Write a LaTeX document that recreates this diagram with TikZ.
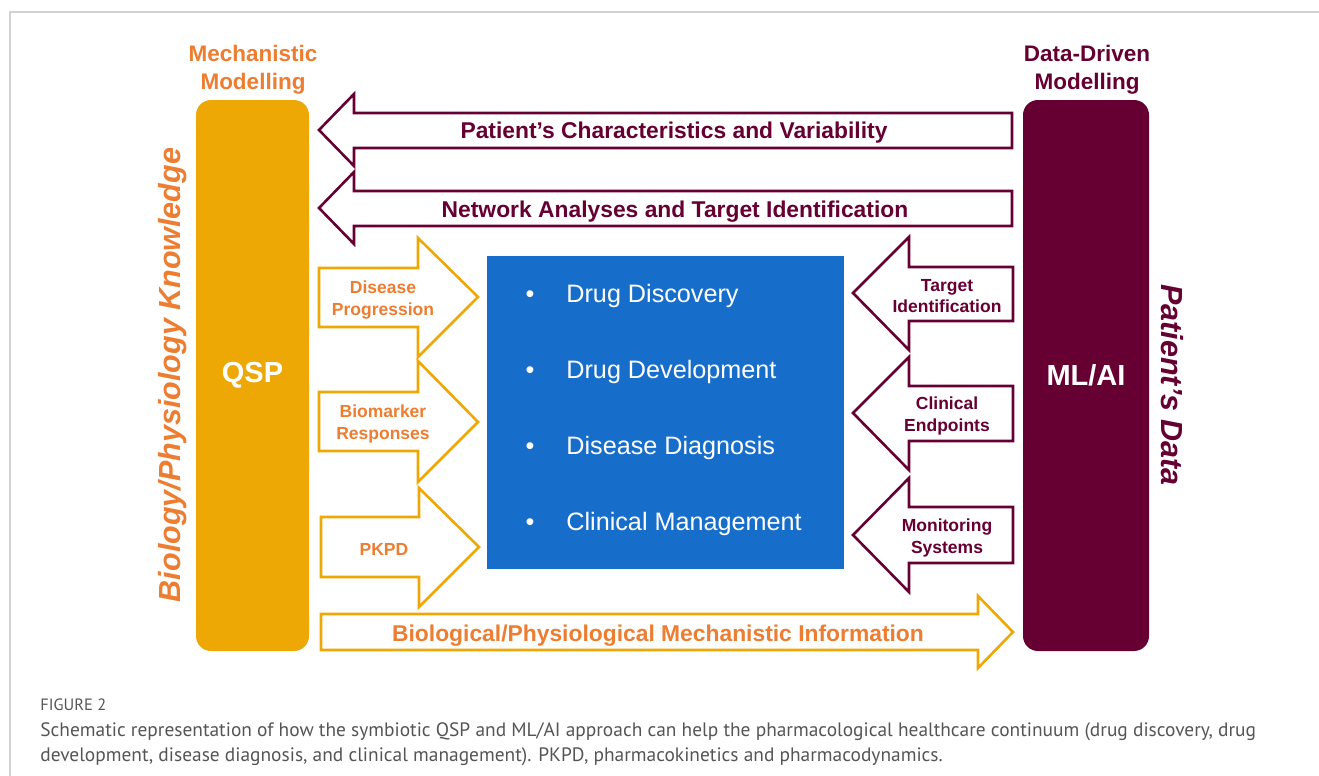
\documentclass[tikz,border=0pt]{standalone}
\usepackage{fontspec}
\setmainfont{Liberation Sans}
\newfontfamily\capfont{PT Sans}
\definecolor{mechorange}{HTML}{ED7D31}
\definecolor{qspgold}{HTML}{EEA806}
\definecolor{maroon}{HTML}{660033}
\definecolor{coreblue}{HTML}{176ECA}
\definecolor{framegray}{HTML}{D2D2D2}
\definecolor{capgray}{HTML}{555555}
\newcommand{\fsz}[2]{\fontsize{#1}{#2}\selectfont}
\begin{document}
\begin{tikzpicture}[x=0.5pt,y=-0.5pt,
  pillar/.style={rounded corners=7.5pt, inner sep=0pt, text=white,
    font=\fsz{14.5pt}{16pt}\bfseries},
  goldarrow/.style={draw=qspgold, line width=1.3pt, fill=white, line join=miter},
  maroonarrow/.style={draw=maroon, line width=1.3pt, fill=white, line join=miter},
  headline/.style={align=center, font=\fsz{11.25pt}{14pt}\bfseries},
  widelabel/.style={font=\fsz{11.42pt}{13pt}\bfseries},
  smalllabel/.style={align=center, font=\fsz{8.75pt}{10.6pt}\bfseries},
  sidelabel/.style={font=\fsz{15.25pt}{17pt}\bfseries\itshape},
  item/.style={anchor=base west, inner sep=0pt, text=white, font=\fsz{12.6pt}{15pt}},
  bullet/.style={anchor=base, inner sep=0pt, text=white, font=\fsz{12.6pt}{15pt}},
  captext/.style={anchor=base west, inner sep=0pt, text=capgray},
]
\useasboundingbox (0,0) rectangle (1319,776);

% page frame
\draw[framegray, line width=0.8pt] (10,776) -- (10,12) -- (1319,12);

% the two modelling pillars
\node[pillar, fill=qspgold, minimum width=56.5pt, minimum height=275.5pt]
  (qsp) at (252.5,375.5) {QSP};
\node[pillar, fill=maroon, minimum width=63pt, minimum height=275.5pt]
  (mlai) at (1086,375.5) {ML/AI};

\node[headline, text=mechorange] (mechtitle) at (253,70) {Mechanistic\\Modelling};
\node[headline, text=maroon] (datatitle) at (1087,70) {Data-Driven\\Modelling};

\node[sidelabel, text=mechorange, rotate=90] (biolabel) at (173,375) {Biology/Physiology Knowledge};
\node[sidelabel, text=maroon, rotate=-90] (patlabel) at (1172,385) {Patient’s Data};

% healthcare continuum
\node[fill=coreblue, minimum width=178.5pt, minimum height=156.5pt, inner sep=0pt]
  (core) at (665.5,412.5) {};
\node[bullet] (b1) at (530,302) {•};
\node[bullet] (b2) at (530,378) {•};
\node[bullet] (b3) at (530,454) {•};
\node[bullet] (b4) at (530,530) {•};
\node[item] (i1) at (566,302) {Drug Discovery};
\node[item] (i2) at (566,378) {Drug Development};
\node[item] (i3) at (566,454) {Disease Diagnosis};
\node[item] (i4) at (566,530) {Clinical Management};

% long arrows from the data-driven side
\draw[maroonarrow] (319,130) -- (354,94) -- (354,113) -- (1012,113) -- (1012,148)
  -- (354,148) -- (354,166) -- cycle;
\node[widelabel, text=maroon] (pcv) at (674,133) {Patient’s Characteristics and Variability};
\draw[maroonarrow] (319,208) -- (354,172) -- (354,191) -- (1012,191) -- (1012,226)
  -- (354,226) -- (354,244) -- cycle;
\node[widelabel, text=maroon] (nati) at (675,212) {Network Analyses and Target Identification};

% long arrow from the mechanistic side
\draw[goldarrow] (321,614) -- (978,614) -- (978,596) -- (1013,632) -- (978,668)
  -- (978,650) -- (321,650) -- cycle;
\node[widelabel, text=mechorange] (bpmi) at (658,636) {Biological/Physiological Mechanistic Information};

% short arrows into the continuum
\draw[goldarrow] (319,268) -- (418,268) -- (418,238) -- (478,297) -- (418,357)
  -- (418,327) -- (319,327) -- cycle;
\node[smalllabel, text=mechorange] (dp) at (383,300) {Disease\\Progression};
\draw[goldarrow] (319,392) -- (418,392) -- (418,361) -- (478,422) -- (418,482)
  -- (418,451) -- (319,451) -- cycle;
\node[smalllabel, text=mechorange] (br) at (383,424) {Biomarker\\Responses};
\draw[goldarrow] (321,517) -- (419,517) -- (419,488) -- (479,547) -- (419,607)
  -- (419,577) -- (321,577) -- cycle;
\node[smalllabel, text=mechorange] (pkpd) at (384,549) {PKPD};

\draw[maroonarrow] (853,293) -- (909,237) -- (909,267) -- (1013,267) -- (1013,321)
  -- (909,321) -- (909,350) -- cycle;
\node[smalllabel, text=maroon] (ti) at (947,296) {Target\\Identification};
\draw[maroonarrow] (853,413) -- (909,357) -- (909,386) -- (1013,386) -- (1013,441)
  -- (909,441) -- (909,470) -- cycle;
\node[smalllabel, text=maroon] (ce) at (947,416) {Clinical\\Endpoints};
\draw[maroonarrow] (853,535) -- (909,478) -- (909,507) -- (1013,507) -- (1013,563)
  -- (909,563) -- (909,592) -- cycle;
\node[smalllabel, text=maroon] (ms) at (947,538) {Monitoring\\Systems};

% caption
\node[captext, font=\capfont\fsz{8.2pt}{10pt}] (fig) at (40,710) {FIGURE 2};
\node[captext, font=\capfont\fsz{9.7pt}{12pt}] (cap1) at (40,736)
  {Schematic representation of how the symbiotic QSP and ML/AI approach can help the pharmacological healthcare continuum (drug discovery, drug};
\node[captext, font=\capfont\fsz{9.7pt}{12pt}] (cap2) at (40,761)
  {development, disease diagnosis, and clinical management). PKPD, pharmacokinetics and pharmacodynamics.};
\end{tikzpicture}
\end{document}
